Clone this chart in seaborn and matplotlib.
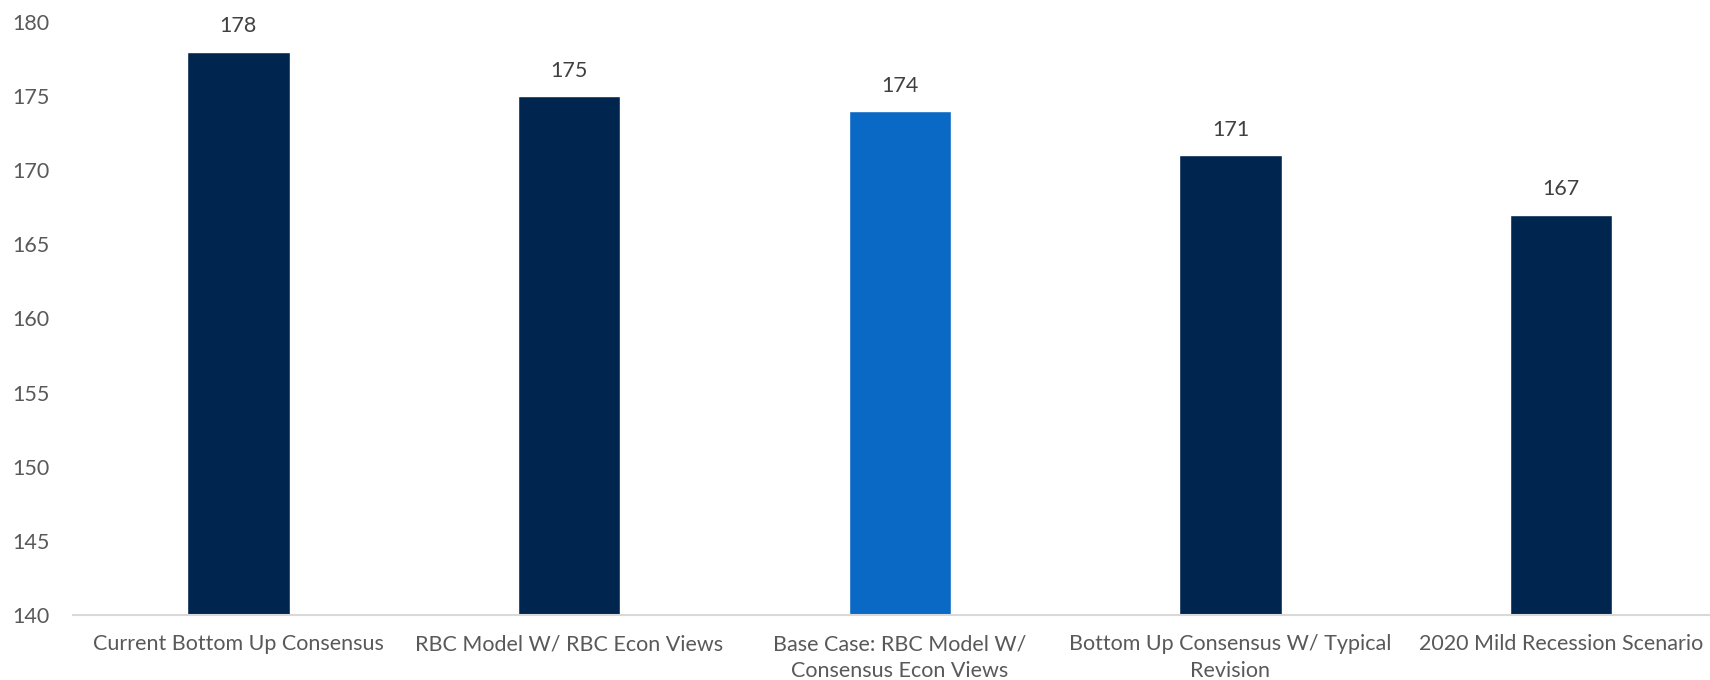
import matplotlib
matplotlib.use("Agg")
import matplotlib.pyplot as plt
import seaborn as sns
import pandas as pd

categories = [
    "Current Bottom Up Consensus",
    "RBC Model W/ RBC Econ Views",
    "Base Case: RBC Model W/\nConsensus Econ Views",
    "Bottom Up Consensus W/ Typical\nRevision",
    "2020 Mild Recession Scenario",
]
values = [178, 175, 174, 171, 167]
bar_colors = ["#002650", "#002650", "#0A69C4", "#002650", "#002650"]
y_ticks = [140, 145, 150, 155, 160, 165, 170, 175, 180]

sns.set_theme(style="white")
plt.rcParams["font.family"] = ["Lato", "DejaVu Sans"]

df = pd.DataFrame({"cat": categories, "val": values})

fig = plt.figure(figsize=(17.1, 6.8), dpi=100)
ax = fig.add_axes([73 / 1710, 65 / 680, 1 - 73 / 1710, (615 - 22) / 680])

sns.barplot(data=df, x="cat", y="val", hue="cat", palette=bar_colors,
            legend=False, width=0.31, ax=ax, saturation=1)

ax.set_ylim(140, 180)
ax.set_xlim(-0.5, 4.45)
ax.set_yticks(y_ticks)
ax.set_xlabel("")
ax.set_ylabel("")
for s in ["top", "right", "left"]:
    ax.spines[s].set_visible(False)
ax.spines["bottom"].set_color("#D9D9D9")
ax.spines["bottom"].set_linewidth(1.5)
ax.tick_params(axis="both", length=0, colors="#595959", labelsize=15.5)
ax.tick_params(axis="x", pad=14)
ax.tick_params(axis="y", pad=17)
for lbl in ax.get_xticklabels():
    lbl.set_linespacing(1.4)

for i, v in enumerate(values):
    ax.annotate(str(v), (i, v), xytext=(0, 11), textcoords="offset points",
                ha="center", va="bottom", fontsize=15.5, color="#404040")

fig.savefig("out.png", dpi=100)
